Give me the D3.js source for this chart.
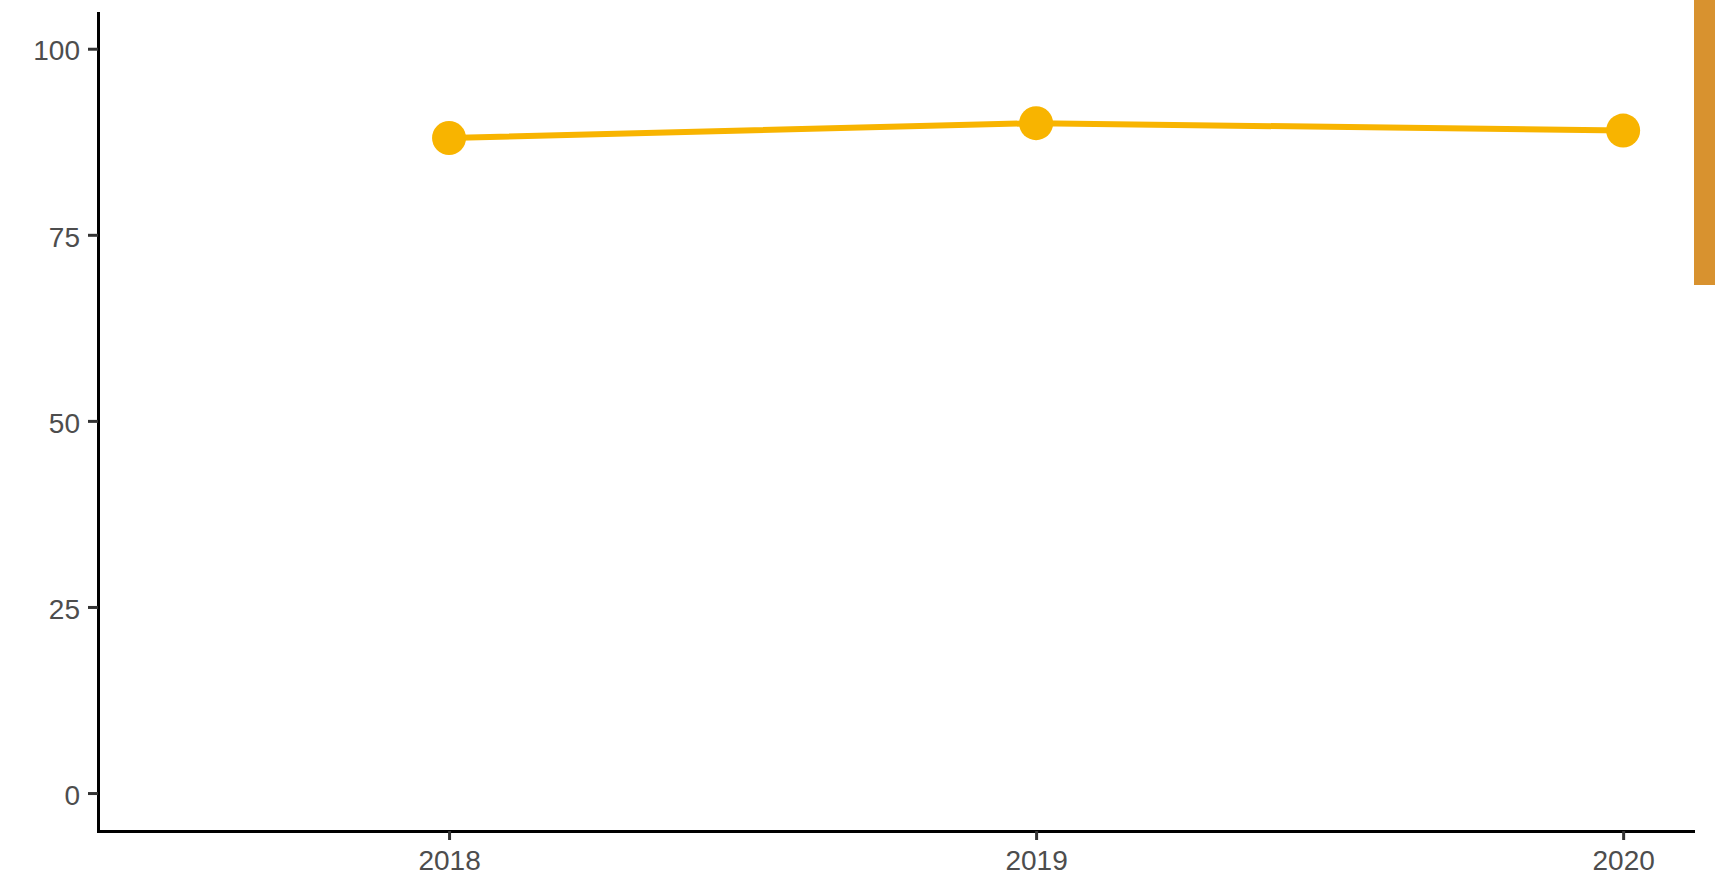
<!DOCTYPE html>
<html>
<head>
<meta charset="utf-8">
<script src="https://cdn.jsdelivr.net/npm/d3@7"></script>
<style>
  body { margin: 0; background: #fff; }
  svg { display: block; }
  .tick text { font-family: "Liberation Sans", Arial, sans-serif; fill: #4d4d4d; }
</style>
</head>
<body>
<svg id="chart" width="1715" height="876"></svg>
<script>
// data
const years = [2018, 2019, 2020];
const values = [88, 90, 89];
const yTicks = [0, 25, 50, 75, 100];

const svg = d3.select("#chart");
const width = +svg.attr("width");
const height = +svg.attr("height");

// plot area
const plotLeft = 98, plotRight = 1693, plotTop = 13, plotBottom = 831;

const x = d3.scaleLinear()
    .domain([2018 - 0.598, 2020 + 0.119])
    .range([plotLeft, plotRight]);

const y = d3.scaleLinear()
    .domain([-5.1, 104.8])
    .range([plotBottom, plotTop]);

// y axis
const yAxisG = svg.append("g")
    .attr("transform", `translate(${plotLeft},0)`)
    .call(d3.axisLeft(y).tickValues(yTicks).tickSize(10).tickPadding(8).tickSizeOuter(0));

// x axis
const xAxisG = svg.append("g")
    .attr("transform", `translate(0,${plotBottom})`)
    .call(d3.axisBottom(x).tickValues(years).tickFormat(d3.format("d")).tickSize(9).tickPadding(10).tickSizeOuter(0));

[yAxisG, xAxisG].forEach(g => {
    g.select(".domain").attr("stroke", "#000").attr("stroke-width", 3).attr("stroke-linecap", "square");
    g.selectAll(".tick line").attr("stroke", "#333").attr("stroke-width", 3);
    g.selectAll(".tick text").style("font-size", "28px");
});
yAxisG.selectAll(".tick text").attr("dy", "0.4em");

// line
const pts = years.map((yr, i) => ({ year: yr, value: values[i] }));

svg.append("path")
    .datum(pts)
    .attr("fill", "none")
    .attr("stroke", "#F8B400")
    .attr("stroke-width", 6)
    .attr("d", d3.line().x(d => x(d.year)).y(d => y(d.value)));

svg.selectAll("circle.pt")
    .data(pts)
    .enter()
    .append("circle")
    .attr("class", "pt")
    .attr("cx", d => x(d.year))
    .attr("cy", d => y(d.value))
    .attr("r", 17)
    .attr("fill", "#F8B400");

// orange strip at the right edge
svg.append("rect")
    .attr("x", 1694)
    .attr("y", 0)
    .attr("width", width - 1694)
    .attr("height", 285)
    .attr("fill", "#D8922F");
</script>
</body>
</html>
